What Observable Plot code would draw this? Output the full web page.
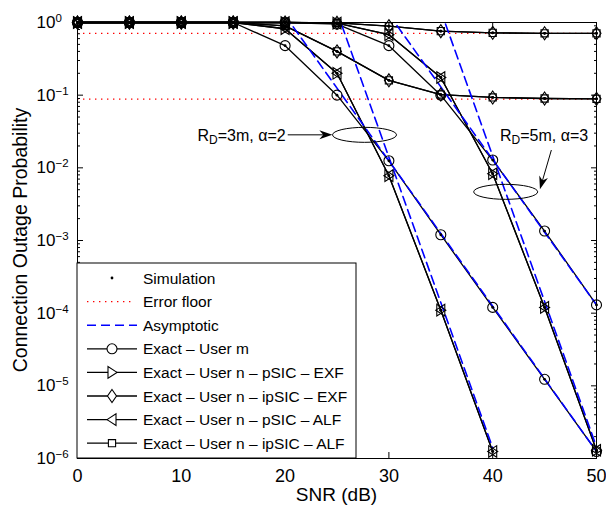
<!DOCTYPE html>
<html>
<head>
<meta charset="utf-8">
<script src="https://cdn.jsdelivr.net/npm/d3@7"></script>
<script src="https://cdn.jsdelivr.net/npm/@observablehq/plot@0.6"></script>
<style>
  html, body { margin: 0; padding: 0; background: #fff; }
  #chart { width: 606px; height: 508px; }
</style>
</head>
<body>
<div id="chart"></div>
<script>
// ---------------- data ----------------
const snr = [0, 5, 10, 15, 20, 25, 30, 35, 40, 45, 50];

// R_D = 3 m, alpha = 2
const userM_3m     = [1, 1, 1, 1, 0.48, 0.1, 0.0125, 1.2e-3, 1.2e-4, 1.23e-5, 1.25e-6];
const pSIC_EXF_3m  = [1, 1, 1, 1, 0.82, 0.2, 0.0078, 1.1e-4, 1.25e-6];
const ipSIC_EXF_3m = [1, 1, 1, 1, 0.9, 0.4, 0.16, 0.102, 0.093, 0.09, 0.089];
const pSIC_ALF_3m  = [1, 1, 1, 1, 0.82, 0.2, 0.0078, 1.1e-4, 1.25e-6];
const ipSIC_ALF_3m = [1, 1, 1, 1, 0.9, 0.4, 0.16, 0.102, 0.093, 0.09, 0.089];

// R_D = 5 m, alpha = 3
const userM_5m     = [1, 1, 1, 1, 1, 0.95, 0.48, 0.1, 0.0128, 1.35e-3, 1.3e-4];
const pSIC_EXF_5m  = [1, 1, 1, 1, 1, 0.98, 0.68, 0.175, 0.0083, 1.2e-4, 1.3e-6];
const ipSIC_EXF_5m = [1, 1, 1, 1, 1, 0.99, 0.89, 0.76, 0.72, 0.71, 0.71];
const pSIC_ALF_5m  = [1, 1, 1, 1, 1, 0.98, 0.68, 0.175, 0.0083, 1.2e-4, 1.3e-6];
const ipSIC_ALF_5m = [1, 1, 1, 1, 1, 0.99, 0.89, 0.76, 0.72, 0.71, 0.71];

// asymptotic curves
const asymSnrM_3m  = [20, 25, 30, 35, 40, 45, 50];
const asymUserM_3m = [1.25, 0.125, 0.0125, 1.25e-3, 1.25e-4, 1.25e-5, 1.25e-6];
const asymSnrN_3m  = [25, 30, 35, 40];
const asymUserN_3m = [1.4, 0.014, 1.4e-4, 1.4e-6];
const asymSnrM_5m  = [30, 35, 40, 45, 50];
const asymUserM_5m = [1.3, 0.13, 0.013, 1.3e-3, 1.3e-4];
const asymSnrN_5m  = [35, 40, 45, 50];
const asymUserN_5m = [1.45, 0.0145, 1.45e-4, 1.45e-6];

// error floors (ipSIC)
const errorFloors = [0.71, 0.088];

// ticks
const xTicks = [0, 10, 20, 30, 40, 50];
const yTicks = [1, 1e-1, 1e-2, 1e-3, 1e-4, 1e-5, 1e-6];
const yExponents = [0, -1, -2, -3, -4, -5, -6];
const minorMultipliers = [2, 3, 4, 5, 6, 7, 8, 9];
const yMinorTicks = yTicks.slice(1).flatMap(t => minorMultipliers.map(m => m * t));

// texts
const xTitle = "SNR (dB)";
const yTitle = "Connection Outage Probability";
const legendLabels = ["Simulation", "Error floor", "Asymptotic", "Exact – User m",
  "Exact – User n – pSIC – EXF", "Exact – User n – ipSIC – EXF",
  "Exact – User n – pSIC – ALF", "Exact – User n – ipSIC – ALF"];

// annotations (data coordinates)
const annot3m = { main: "R", sub: "D", rest: "=3m, α=2", textEnd: [20.1, 0.028],
  ellipse: [27.7, 0.028], arrowFrom: [20.3, 0.028], arrowTo: [24.6, 0.028] };
const annot5m = { main: "R", sub: "D", rest: "=5m, α=3", textMid: [45.0, 0.028],
  ellipse: [41.3, 0.0046], arrowFrom: [45.7, 0.0173], arrowTo: [44.6, 0.0050] };

// ---------------- symbols ----------------
const symCircle = { draw(c) { c.moveTo(5, 0); c.arc(0, 0, 5, 0, 2 * Math.PI); } };
const symTriRight = { draw(c) { c.moveTo(5, 0); c.lineTo(-4, -5.8); c.lineTo(-4, 5.8); c.closePath(); } };
const symTriLeft = { draw(c) { c.moveTo(-5, 0); c.lineTo(4, -5.8); c.lineTo(4, 5.8); c.closePath(); } };
const symDiamond = { draw(c) { c.moveTo(0, -6.5); c.lineTo(4.5, 0); c.lineTo(0, 6.5); c.lineTo(-4.5, 0); c.closePath(); } };
const symSquare = { draw(c) { c.moveTo(-3.6, -3.6); c.lineTo(3.6, -3.6); c.lineTo(3.6, 3.6); c.lineTo(-3.6, 3.6); c.closePath(); } };

const pts = (xArr, yArr) => yArr.map((p, i) => ({ snr: xArr[i], p }));

const exactSeries = [
  { data: pts(snr, userM_3m), symbol: symCircle },
  { data: pts(snr, userM_5m), symbol: symCircle },
  { data: pts(snr, pSIC_EXF_3m), symbol: symTriRight },
  { data: pts(snr, pSIC_EXF_5m), symbol: symTriRight },
  { data: pts(snr, ipSIC_EXF_3m), symbol: symDiamond },
  { data: pts(snr, ipSIC_EXF_5m), symbol: symDiamond },
  { data: pts(snr, pSIC_ALF_3m), symbol: symTriLeft },
  { data: pts(snr, pSIC_ALF_5m), symbol: symTriLeft },
  { data: pts(snr, ipSIC_ALF_3m), symbol: symSquare },
  { data: pts(snr, ipSIC_ALF_5m), symbol: symSquare }
];
const asymSeries = [
  pts(asymSnrM_3m, asymUserM_3m), pts(asymSnrN_3m, asymUserN_3m),
  pts(asymSnrM_5m, asymUserM_5m), pts(asymSnrN_5m, asymUserN_5m)
];
const simulation = exactSeries.flatMap(s => s.data);

const FONT = "'Liberation Sans', Arial, Helvetica, sans-serif";
const ASYM = { stroke: "#0000ff", strokeWidth: 1.6, strokeDasharray: "9,5" };
const FLOOR = { stroke: "#ff0000", strokeWidth: 1.3, strokeDasharray: "1.4,4.6" };

const plot = Plot.plot({
  width: 606, height: 508,
  marginLeft: 77, marginRight: 10, marginTop: 22, marginBottom: 50,
  style: { fontFamily: FONT, fontSize: "17px", background: "white", color: "black", overflow: "visible" },
  x: { domain: [0, 50] },
  y: { type: "log", domain: [1e-6, 1] },
  marks: [
    Plot.ruleY(errorFloors, FLOOR),
    ...exactSeries.map(s => Plot.line(s.data, { x: "snr", y: "p", stroke: "black", strokeWidth: 1.3 })),
    ...asymSeries.map(d => Plot.line(d, { x: "snr", y: "p", clip: true, ...ASYM })),
    ...exactSeries.map(s => Plot.dot(s.data, { x: "snr", y: "p", symbol: s.symbol, stroke: "black", fill: "none", strokeWidth: 1.1 })),
    Plot.dot(simulation, { x: "snr", y: "p", r: 1.4, fill: "black", stroke: "none" }),
    Plot.frame({ stroke: "black", strokeWidth: 1 }),
    // inside ticks
    Plot.axisX({ anchor: "bottom", ticks: xTicks, tickSize: 6, dy: -6, fill: "none", label: null }),
    Plot.axisX({ anchor: "top", ticks: xTicks, tickSize: 6, dy: 6, fill: "none", label: null }),
    Plot.axisY({ anchor: "left", ticks: yTicks, tickSize: 6, dx: 6, fill: "none", label: null }),
    Plot.axisY({ anchor: "right", ticks: yTicks, tickSize: 6, dx: -6, fill: "none", label: null }),
    Plot.axisY({ anchor: "left", ticks: yMinorTicks, tickSize: 3, dx: 3, fill: "none", label: null }),
    Plot.axisY({ anchor: "right", ticks: yMinorTicks, tickSize: 3, dx: -3, fill: "none", label: null }),
    // labels
    Plot.axisX({ anchor: "bottom", ticks: xTicks, tickSize: 0, tickPadding: 11, fontSize: 18, tickFormat: d => String(d), label: null }),
    Plot.axisY({ anchor: "left", ticks: yTicks, tickSize: 0, tickPadding: 41, textAnchor: "start", fontSize: 17,
      tickFormat: d => "10^" + yExponents[yTicks.indexOf(d)], label: null })
  ]
});
document.getElementById("chart").appendChild(plot);

const svg = d3.select(plot);
const xs = v => plot.scale("x").apply(v);
const ys = v => plot.scale("y").apply(v);

// superscript exponents on y tick labels
svg.selectAll('g[aria-label="y-axis tick label"] text').each(function () {
  const t = this.textContent;
  if (!t.startsWith("10^")) return;
  const e = t.slice(3).replace("-", "\u2212");
  const sel = d3.select(this);
  sel.text(null);
  sel.append("tspan").text("10");
  sel.append("tspan").attr("dy", "-0.52em").attr("font-size", "11.5px").text(e);
});

// axis titles
const x0 = xs(0), x1 = xs(50), yTop = ys(1), yBot = ys(1e-6);
svg.append("text").attr("x", (x0 + x1) / 2).attr("y", yBot + 43)
  .attr("text-anchor", "middle").attr("font-family", FONT).attr("font-size", 19).attr("fill", "black").text(xTitle);
svg.append("text").attr("transform", `translate(${x0 - 57},${(yTop + yBot) / 2}) rotate(-90)`)
  .attr("text-anchor", "middle").attr("dominant-baseline", "central")
  .attr("font-family", FONT).attr("font-size", 19.5).attr("fill", "black").text(yTitle);

// annotations
function arrow(from, to) {
  const [ax, ay] = [xs(from[0]), ys(from[1])], [bx, by] = [xs(to[0]), ys(to[1])];
  const L = Math.hypot(bx - ax, by - ay), ux = (bx - ax) / L, uy = (by - ay) / L;
  const hl = 13, hw = 4.5;
  const g = svg.append("g");
  g.append("line").attr("x1", ax).attr("y1", ay).attr("x2", bx - ux * hl * 0.6).attr("y2", by - uy * hl * 0.6)
    .attr("stroke", "black").attr("stroke-width", 1);
  const bxh = bx - ux * hl, byh = by - uy * hl;
  g.append("path").attr("d", `M${bx},${by}L${bxh - uy * hw},${byh + ux * hw}L${bx - ux * hl * 0.7},${by - uy * hl * 0.7}L${bxh + uy * hw},${byh - ux * hw}Z`)
    .attr("fill", "black");
}
function ellipse(c) {
  svg.append("ellipse").attr("cx", xs(c[0])).attr("cy", ys(c[1])).attr("rx", 32).attr("ry", 7.5)
    .attr("fill", "none").attr("stroke", "black").attr("stroke-width", 1);
}
function label(a, x, y, anchor) {
  const t = svg.append("text").attr("x", x).attr("y", y).attr("text-anchor", anchor)
    .attr("dominant-baseline", "central").attr("font-family", FONT).attr("font-size", 16).attr("fill", "black");
  t.append("tspan").text(a.main);
  t.append("tspan").attr("font-size", "12px").attr("dy", 5).text(a.sub);
  t.append("tspan").attr("dy", -5).text(a.rest);
}
ellipse(annot3m.ellipse);
arrow(annot3m.arrowFrom, annot3m.arrowTo);
label(annot3m, xs(annot3m.textEnd[0]), ys(annot3m.textEnd[1]), "end");
ellipse(annot5m.ellipse);
arrow(annot5m.arrowFrom, annot5m.arrowTo);
label(annot5m, xs(annot5m.textMid[0]), ys(annot5m.textMid[1]), "middle");

// legend (inside the plot, lower-left corner)
const lg = svg.append("g").attr("text-anchor", "start");
const lgLeft = x0, lgRight = x0 + 279, lgBottom = yBot, lgTop = yBot - 195;
lg.append("rect").attr("x", lgLeft).attr("y", lgTop).attr("width", lgRight - lgLeft).attr("height", lgBottom - lgTop)
  .attr("fill", "white").attr("stroke", "black").attr("stroke-width", 1);
const legendSymbols = [null, null, null, symCircle, symTriRight, symDiamond, symTriLeft, symSquare];
legendLabels.forEach((name, i) => {
  const cy = lgTop + 15 + i * 23.6;
  const sx0 = lgLeft + 10, sx1 = lgLeft + 60, smid = lgLeft + 35;
  if (i === 0) {
    lg.append("circle").attr("cx", smid).attr("cy", cy).attr("r", 1.4).attr("fill", "black");
  } else if (i === 1) {
    lg.append("line").attr("x1", sx0).attr("x2", sx1 - 4).attr("y1", cy).attr("y2", cy)
      .attr("stroke", FLOOR.stroke).attr("stroke-width", FLOOR.strokeWidth).attr("stroke-dasharray", FLOOR.strokeDasharray);
  } else if (i === 2) {
    lg.append("line").attr("x1", sx0).attr("x2", sx1).attr("y1", cy).attr("y2", cy)
      .attr("stroke", ASYM.stroke).attr("stroke-width", ASYM.strokeWidth).attr("stroke-dasharray", ASYM.strokeDasharray);
  } else {
    lg.append("line").attr("x1", sx0).attr("x2", sx1).attr("y1", cy).attr("y2", cy)
      .attr("stroke", "black").attr("stroke-width", 1.3);
    lg.append("path").attr("transform", `translate(${smid},${cy})`).attr("d", d3.symbol(legendSymbols[i])())
      .attr("fill", "white").attr("stroke", "black").attr("stroke-width", 1.1);
  }
  lg.append("text").attr("x", lgLeft + 66).attr("y", cy).attr("dominant-baseline", "central")
    .attr("text-anchor", "start").attr("font-family", FONT).attr("font-size", 15.5).attr("fill", "black").text(name);
});
</script>
</body>
</html>
